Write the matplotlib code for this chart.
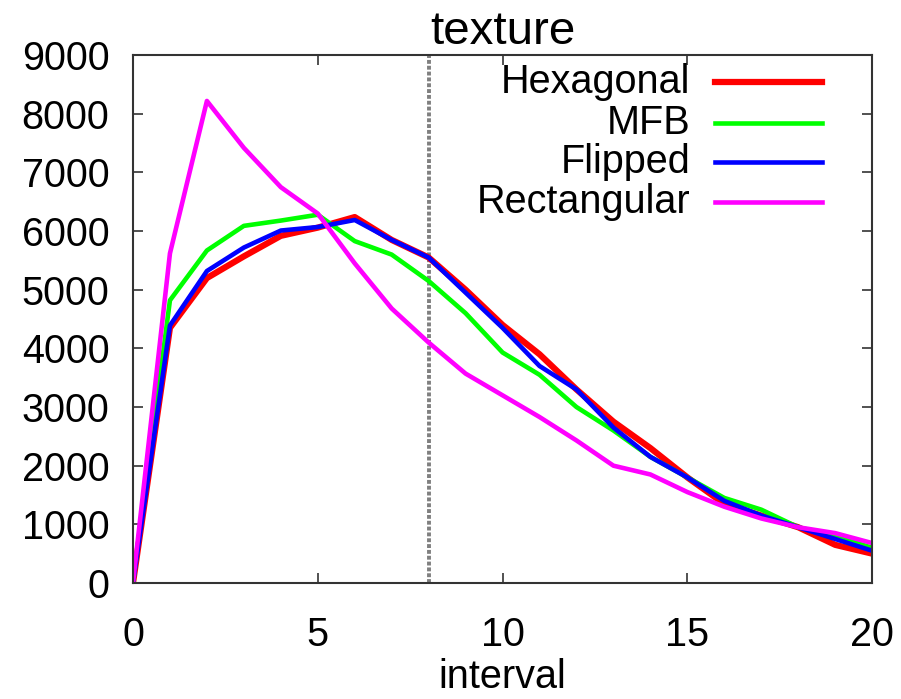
import matplotlib
matplotlib.use('Agg')
from matplotlib import pylab as pl

pl.rcParams['font.family'] = 'Liberation Sans'
pl.rcParams['font.size'] = 28.5

# data
interval = list(range(21))
hexagonal = [0, 4350, 5200, 5570, 5920, 6060, 6240, 5850, 5550, 5000, 4400,
             3900, 3300, 2750, 2300, 1800, 1350, 1150, 950, 650, 500]
mfb = [0, 4820, 5670, 6090, 6180, 6280, 5830, 5600, 5150, 4600, 3930,
       3550, 3000, 2600, 2150, 1800, 1450, 1250, 950, 800, 600]
flipped = [0, 4390, 5320, 5720, 6010, 6070, 6190, 5850, 5550, 4950, 4350,
           3700, 3300, 2650, 2150, 1800, 1400, 1150, 950, 750, 550]
rectangular = [0, 5620, 8220, 7420, 6750, 6300, 5450, 4680, 4100, 3570, 3200,
               2830, 2430, 2000, 1850, 1550, 1300, 1100, 950, 850, 680]
names = ['Hexagonal', 'MFB', 'Flipped', 'Rectangular']
series = [hexagonal, mfb, flipped, rectangular]
color = ['#ff0000', '#00ff00', '#0000ff', '#ff00ff']
lws = [4.5, 3.3, 3.3, 3.3]
marker_x = 8

fig = pl.figure(figsize=(9.01, 6.99), dpi=100)
ax = fig.add_axes([0.1476, 0.166, 0.8204, 0.755])

ax.axvline(marker_x, color='#808080', lw=2.8, ls=(0, (1, 0.5)), zorder=1)
for ys, c, lw in zip(series, color, lws):
    ax.plot(interval, ys, color=c, lw=lw, zorder=2)

ax.set_xlim(0, 20)
ax.set_ylim(0, 9000)
ax.set_xticks([0, 5, 10, 15, 20])
ax.set_yticks(range(0, 9001, 1000))
ax.tick_params(direction='in', length=7, width=1.2, top=True, right=True,
               color='#333333')
ax.tick_params(axis='x', pad=24)
ax.tick_params(axis='y', pad=17)
for s in ax.spines.values():
    s.set_linewidth(1.5)
    s.set_color('#333333')

ax.set_title('texture', pad=8)
ax.set_xlabel('interval', labelpad=3)

# gnuplot-style key: label right-aligned, sample to its right
ys_key = [0.949, 0.871, 0.797, 0.722]
for name, c, yk, lw in zip(names, color, ys_key, lws):
    ax.text(0.754, yk, name, transform=ax.transAxes, ha='right', va='center')
    ax.plot([0.788, 0.932], [yk, yk], transform=ax.transAxes, color=c, lw=lw)

fig.savefig('out.png', dpi=100)
